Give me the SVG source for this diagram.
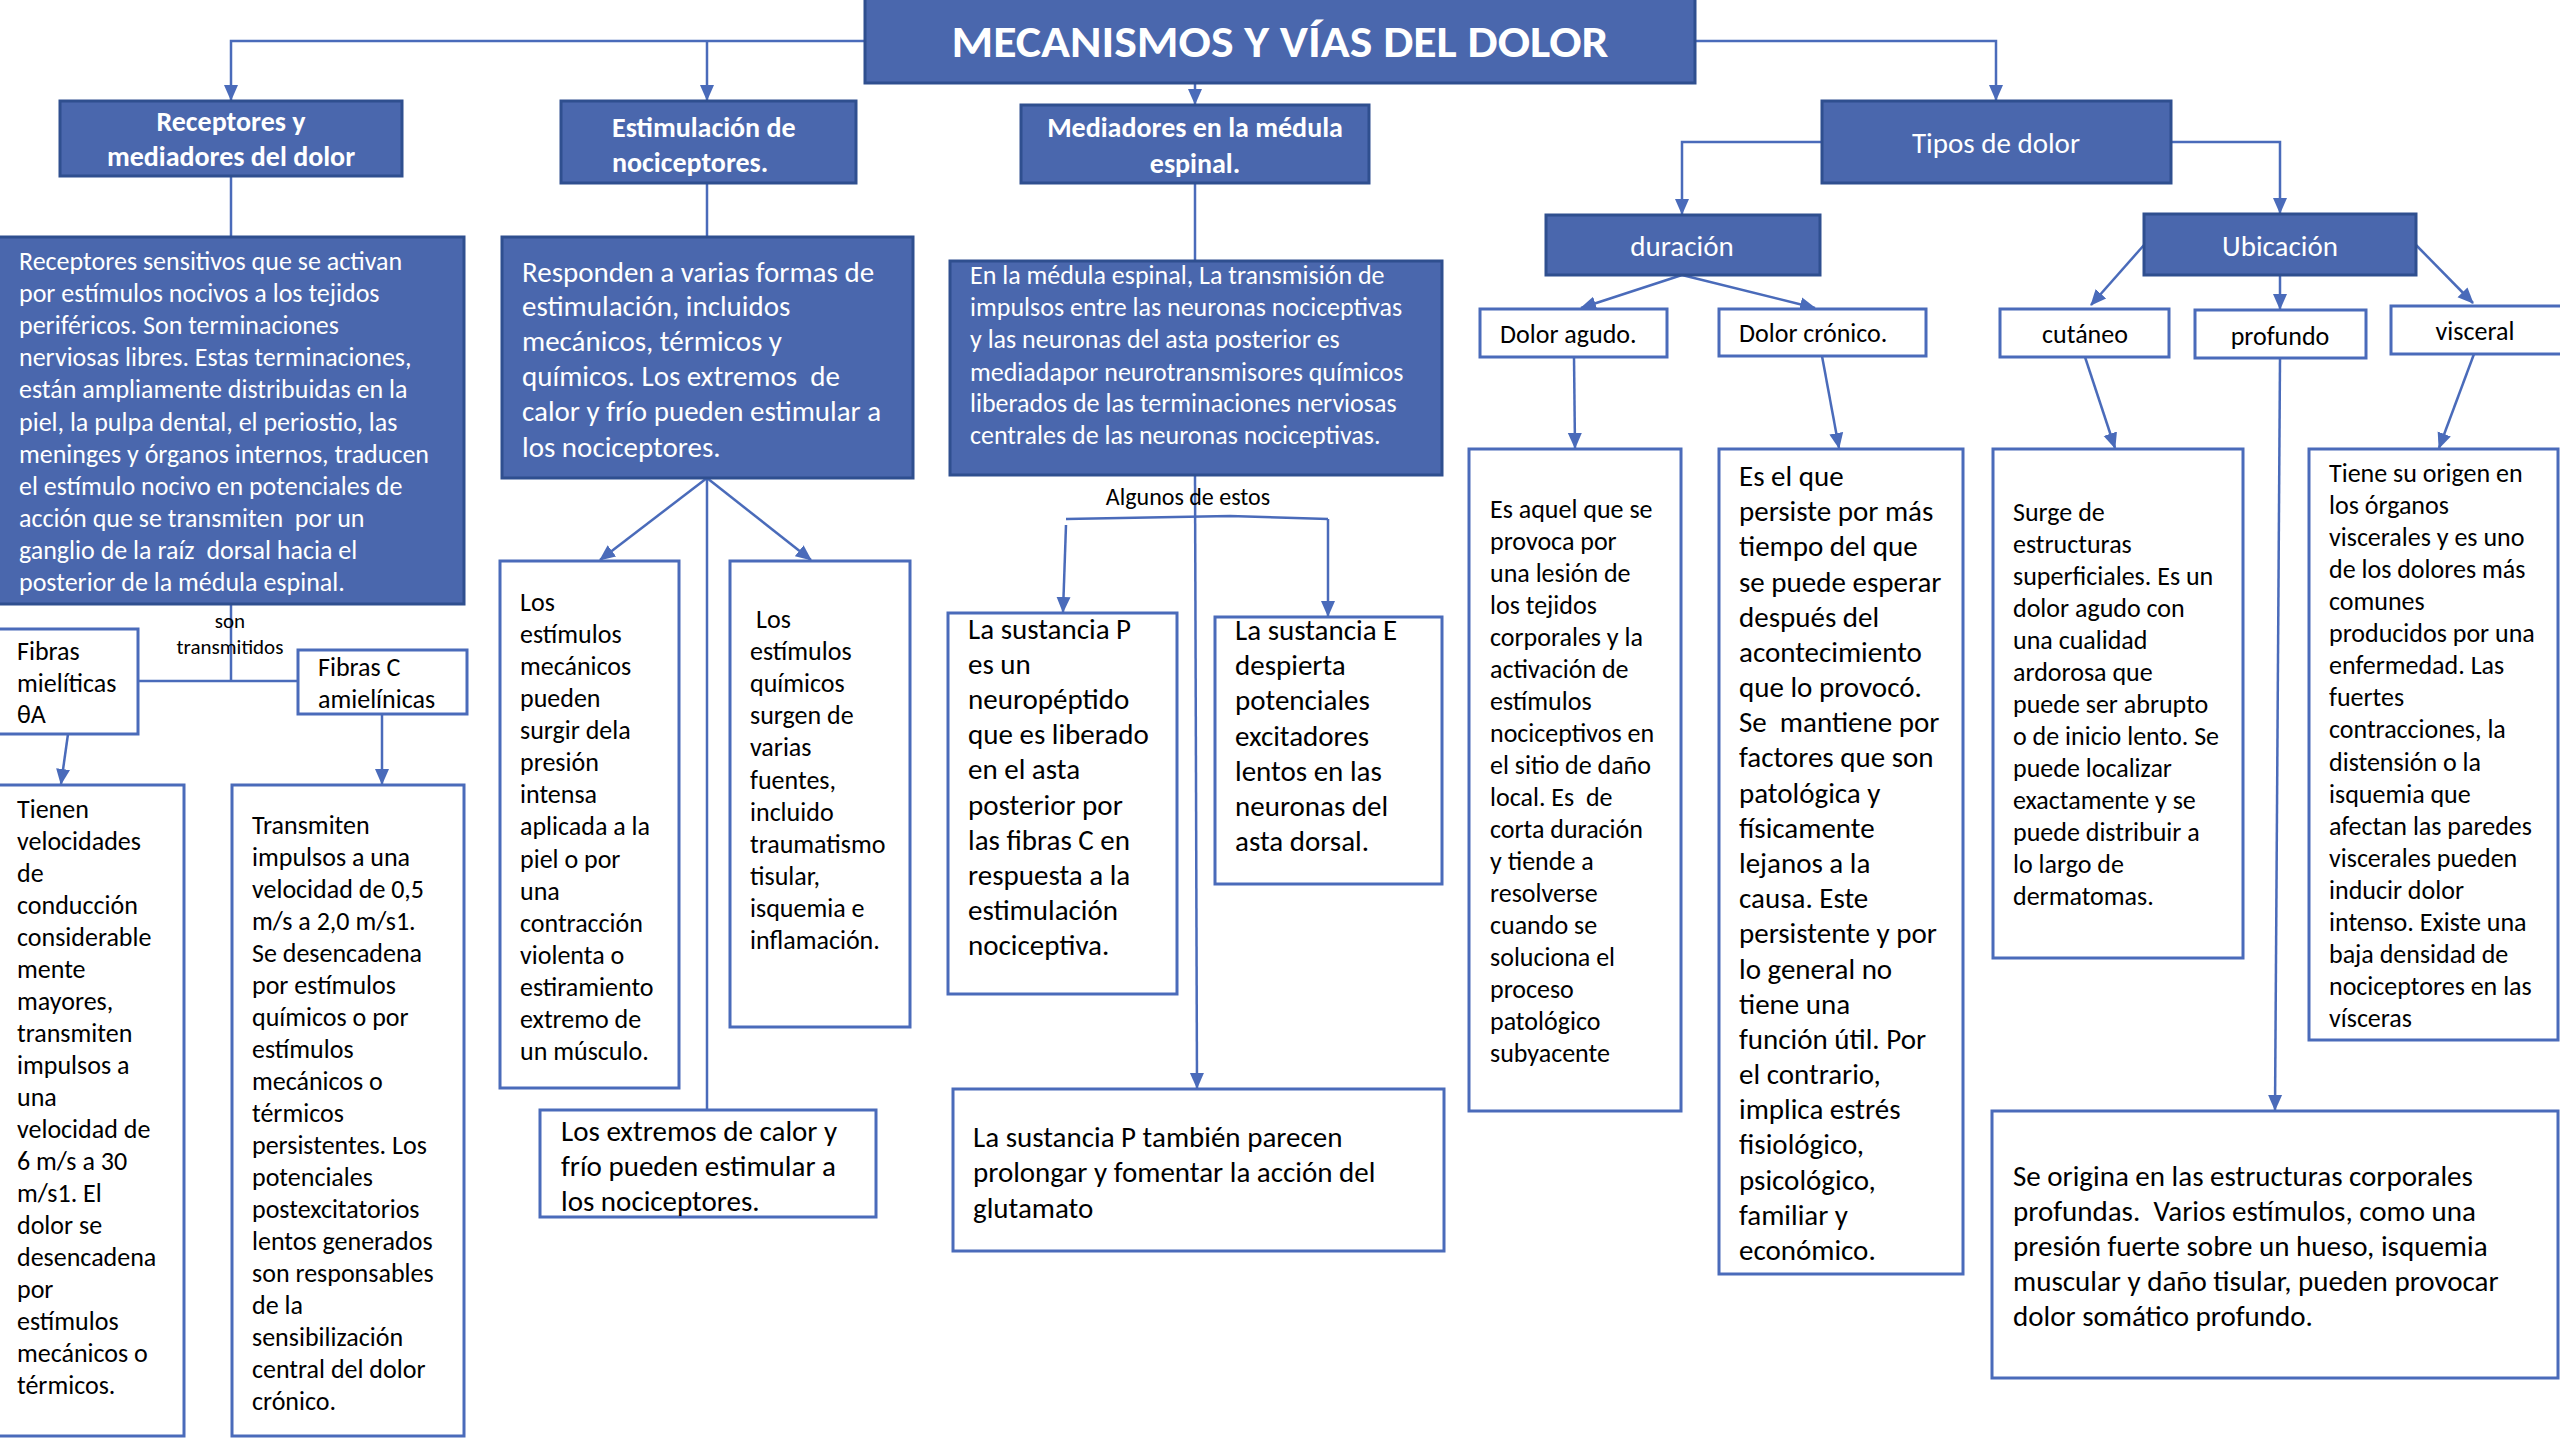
<svg xmlns="http://www.w3.org/2000/svg" width="2560" height="1440" viewBox="0 0 2560 1440">
<style>
text{font-family:Carlito,Lato,"Liberation Sans",sans-serif}
.fb{fill:#4A67AD;stroke:#2F4F8F;stroke-width:3}
.wb{fill:#FFFFFF;stroke:#4A6BBA;stroke-width:3}
.c{fill:none;stroke:#4A6BBA;stroke-width:2.5}
.a{marker-end:url(#ah)}
.w{fill:#FFFFFF}
.k{fill:#000000}
.h{font-weight:bold;font-size:28px}
.t26{font-size:26px}
.t29{font-size:29px}
.t20{font-size:21px}
.mid{text-anchor:middle}
</style>
<defs>
<marker id="ah" markerUnits="userSpaceOnUse" markerWidth="16" markerHeight="16" viewBox="0 0 16 14" refX="15" refY="7" orient="auto">
<path d="M0,0 L16,7 L0,14 z" fill="#4A6BBA"/>
</marker>
</defs>
<rect width="2560" height="1440" fill="#FFFFFF"/>

<g id="connectors">
<path class="c a" d="M865,41 H231 V100"/>
<path class="c a" d="M707,41 V100"/>
<path class="c a" d="M1195,83 V104"/>
<path class="c a" d="M1695,41 H1996 V100"/>
<path class="c" d="M231,176 V237"/>
<path class="c" d="M707,183 V237"/>
<path class="c" d="M1195,183 V261"/>
<path class="c" d="M231,604 V681 M138,681 H298"/>
<path class="c a" d="M68,734 L61,784"/>
<path class="c a" d="M382,714 V784"/>
<path class="c a" d="M707,478 L600,560"/>
<path class="c a" d="M707,478 L811,560"/>
<path class="c" d="M707,478 V1110"/>
<path class="c a" d="M1195,475 L1197,1088"/>
<path class="c" d="M1066,519 L1230,516 L1328,519"/>
<path class="c a" d="M1066,525 L1063,612"/>
<path class="c a" d="M1328,519 V616"/>
<path class="c a" d="M1822,142 H1682 V214"/>
<path class="c a" d="M2171,142 H2280 V213"/>
<path class="c a" d="M1682,275 L1581,308"/>
<path class="c a" d="M1682,275 L1815,308"/>
<path class="c a" d="M2144,245 L2091,305"/>
<path class="c a" d="M2280,275 V309"/>
<path class="c a" d="M2416,245 L2473,303"/>
<path class="c a" d="M1574,357 L1575,448"/>
<path class="c a" d="M1822,356 L1839,448"/>
<path class="c a" d="M2085,357 L2115,448"/>
<path class="c a" d="M2280,358 L2275,1110"/>
<path class="c a" d="M2474,354 L2439,448"/>
</g>

<g id="title">
<rect class="fb" x="865" y="-2" width="830" height="85"/>
<text class="w mid" x="1280" y="57" font-size="45" font-weight="bold" textLength="657" lengthAdjust="spacingAndGlyphs">MECANISMOS Y VÍAS DEL DOLOR</text>
</g>

<g id="receptores">
<rect class="fb" x="60" y="101" width="342" height="75"/>
<text class="w h mid"><tspan x="231" y="131">Receptores y</tspan><tspan x="231" y="166">mediadores del dolor</tspan></text>
</g>

<g id="receptores-desc">
<rect class="fb" x="-2" y="237" width="466" height="367"/>
<text class="w t26">
<tspan x="19" y="270">Receptores sensitivos que se activan</tspan>
<tspan x="19" y="302">por estímulos nocivos a los tejidos</tspan>
<tspan x="19" y="334">periféricos. Son terminaciones</tspan>
<tspan x="19" y="366">nerviosas libres. Estas terminaciones,</tspan>
<tspan x="19" y="398">están ampliamente distribuidas en la</tspan>
<tspan x="19" y="431">piel, la pulpa dental, el periostio, las</tspan>
<tspan x="19" y="463">meninges y órganos internos, traducen</tspan>
<tspan x="19" y="495">el estímulo nocivo en potenciales de</tspan>
<tspan x="19" y="527">acción que se transmiten &#160;por un</tspan>
<tspan x="19" y="559">ganglio de la raíz &#160;dorsal hacia el</tspan>
<tspan x="19" y="591">posterior de la médula espinal.</tspan>
</text>
</g>

<g id="son-transmitidos">
<text class="k t20 mid"><tspan x="230" y="628">son</tspan><tspan x="230" y="654">transmitidos</tspan></text>
</g>

<g id="fibras-a">
<rect class="wb" x="-2" y="629" width="140" height="105"/>
<text class="k t26"><tspan x="17" y="660">Fibras</tspan><tspan x="17" y="692">mielíticas</tspan><tspan x="17" y="723">θA</tspan></text>
</g>

<g id="fibras-c">
<rect class="wb" x="298" y="650" width="169" height="64"/>
<text class="k t26"><tspan x="318" y="676">Fibras C</tspan><tspan x="318" y="708">amielínicas</tspan></text>
</g>

<g id="fibras-a-desc">
<rect class="wb" x="-2" y="785" width="186" height="651"/>
<text class="k t26">
<tspan x="17" y="818">Tienen</tspan>
<tspan x="17" y="850">velocidades</tspan>
<tspan x="17" y="882">de</tspan>
<tspan x="17" y="914">conducción</tspan>
<tspan x="17" y="946">considerable</tspan>
<tspan x="17" y="978">mente</tspan>
<tspan x="17" y="1010">mayores,</tspan>
<tspan x="17" y="1042">transmiten</tspan>
<tspan x="17" y="1074">impulsos a</tspan>
<tspan x="17" y="1106">una</tspan>
<tspan x="17" y="1138">velocidad de</tspan>
<tspan x="17" y="1170">6 m/s a 30</tspan>
<tspan x="17" y="1202">m/s1. El</tspan>
<tspan x="17" y="1234">dolor se</tspan>
<tspan x="17" y="1266">desencadena</tspan>
<tspan x="17" y="1298">por</tspan>
<tspan x="17" y="1330">estímulos</tspan>
<tspan x="17" y="1362">mecánicos o</tspan>
<tspan x="17" y="1394">térmicos.</tspan>
</text>
</g>

<g id="fibras-c-desc">
<rect class="wb" x="232" y="785" width="232" height="651"/>
<text class="k t26">
<tspan x="252" y="834">Transmiten</tspan>
<tspan x="252" y="866">impulsos a una</tspan>
<tspan x="252" y="898">velocidad de 0,5</tspan>
<tspan x="252" y="930">m/s a 2,0 m/s1.</tspan>
<tspan x="252" y="962">Se desencadena</tspan>
<tspan x="252" y="994">por estímulos</tspan>
<tspan x="252" y="1026">químicos o por</tspan>
<tspan x="252" y="1058">estímulos</tspan>
<tspan x="252" y="1090">mecánicos o</tspan>
<tspan x="252" y="1122">térmicos</tspan>
<tspan x="252" y="1154">persistentes. Los</tspan>
<tspan x="252" y="1186">potenciales</tspan>
<tspan x="252" y="1218">postexcitatorios</tspan>
<tspan x="252" y="1250">lentos generados</tspan>
<tspan x="252" y="1282">son responsables</tspan>
<tspan x="252" y="1314">de la</tspan>
<tspan x="252" y="1346">sensibilización</tspan>
<tspan x="252" y="1378">central del dolor</tspan>
<tspan x="252" y="1410">crónico.</tspan>
</text>
</g>

<g id="estimulacion">
<rect class="fb" x="561" y="101" width="295" height="82"/>
<text class="w h"><tspan x="612" y="137">Estimulación de</tspan><tspan x="612" y="172">nociceptores.</tspan></text>
</g>

<g id="estimulacion-desc">
<rect class="fb" x="502" y="237" width="411" height="241"/>
<text class="w t29">
<tspan x="522" y="282">Responden a varias formas de</tspan>
<tspan x="522" y="316">estimulación, incluidos</tspan>
<tspan x="522" y="351">mecánicos, térmicos y</tspan>
<tspan x="522" y="386">químicos. Los extremos &#160;de</tspan>
<tspan x="522" y="421">calor y frío pueden estimular a</tspan>
<tspan x="522" y="457">los nociceptores.</tspan>
</text>
</g>

<g id="mecanicos">
<rect class="wb" x="500" y="561" width="179" height="527"/>
<text class="k t26">
<tspan x="520" y="611">Los</tspan>
<tspan x="520" y="643">estímulos</tspan>
<tspan x="520" y="675">mecánicos</tspan>
<tspan x="520" y="707">pueden</tspan>
<tspan x="520" y="739">surgir dela</tspan>
<tspan x="520" y="771">presión</tspan>
<tspan x="520" y="803">intensa</tspan>
<tspan x="520" y="835">aplicada a la</tspan>
<tspan x="520" y="868">piel o por</tspan>
<tspan x="520" y="900">una</tspan>
<tspan x="520" y="932">contracción</tspan>
<tspan x="520" y="964">violenta o</tspan>
<tspan x="520" y="996">estiramiento</tspan>
<tspan x="520" y="1028">extremo de</tspan>
<tspan x="520" y="1060">un músculo.</tspan>
</text>
</g>

<g id="quimicos">
<rect class="wb" x="730" y="561" width="180" height="466"/>
<text class="k t26">
<tspan x="756" y="628">Los</tspan>
<tspan x="750" y="660">estímulos</tspan>
<tspan x="750" y="692">químicos</tspan>
<tspan x="750" y="724">surgen de</tspan>
<tspan x="750" y="756">varias</tspan>
<tspan x="750" y="789">fuentes,</tspan>
<tspan x="750" y="821">incluido</tspan>
<tspan x="750" y="853">traumatismo</tspan>
<tspan x="750" y="885">tisular,</tspan>
<tspan x="750" y="917">isquemia e</tspan>
<tspan x="750" y="949">inflamación.</tspan>
</text>
</g>

<g id="extremos">
<rect class="wb" x="540" y="1110" width="336" height="107"/>
<text class="k t29">
<tspan x="561" y="1141">Los extremos de calor y</tspan>
<tspan x="561" y="1176">frío pueden estimular a</tspan>
<tspan x="561" y="1211">los nociceptores.</tspan>
</text>
</g>

<g id="mediadores">
<rect class="fb" x="1021" y="105" width="348" height="78"/>
<text class="w h mid"><tspan x="1195" y="137">Mediadores en la médula</tspan><tspan x="1195" y="173">espinal.</tspan></text>
</g>

<g id="mediadores-desc">
<rect class="fb" x="950" y="261" width="492" height="214"/>
<text class="w t26">
<tspan x="970" y="284">En la médula espinal, La transmisión de</tspan>
<tspan x="970" y="316">impulsos entre las neuronas nociceptivas</tspan>
<tspan x="970" y="348">y las neuronas del asta posterior es</tspan>
<tspan x="970" y="381">mediadapor neurotransmisores químicos</tspan>
<tspan x="970" y="412">liberados de las terminaciones nerviosas</tspan>
<tspan x="970" y="444">centrales de las neuronas nociceptivas.</tspan>
</text>
</g>

<g id="algunos">
<text class="k mid" x="1188" y="505" font-size="24">Algunos de estos</text>
</g>

<g id="sustancia-p">
<rect class="wb" x="948" y="613" width="229" height="381"/>
<text class="k t29">
<tspan x="968" y="639">La sustancia P</tspan>
<tspan x="968" y="674">es un</tspan>
<tspan x="968" y="709">neuropéptido</tspan>
<tspan x="968" y="744">que es liberado</tspan>
<tspan x="968" y="779">en el asta</tspan>
<tspan x="968" y="815">posterior por</tspan>
<tspan x="968" y="850">las fibras C en</tspan>
<tspan x="968" y="885">respuesta a la</tspan>
<tspan x="968" y="920">estimulación</tspan>
<tspan x="968" y="955">nociceptiva.</tspan>
</text>
</g>

<g id="sustancia-e">
<rect class="wb" x="1215" y="617" width="227" height="267"/>
<text class="k t29">
<tspan x="1235" y="640">La sustancia E</tspan>
<tspan x="1235" y="675">despierta</tspan>
<tspan x="1235" y="710">potenciales</tspan>
<tspan x="1235" y="746">excitadores</tspan>
<tspan x="1235" y="781">lentos en las</tspan>
<tspan x="1235" y="816">neuronas del</tspan>
<tspan x="1235" y="851">asta dorsal.</tspan>
</text>
</g>

<g id="glutamato">
<rect class="wb" x="953" y="1089" width="491" height="162"/>
<text class="k t29">
<tspan x="973" y="1147">La sustancia P también parecen</tspan>
<tspan x="973" y="1182">prolongar y fomentar la acción del</tspan>
<tspan x="973" y="1218">glutamato</tspan>
</text>
</g>

<g id="tipos">
<rect class="fb" x="1822" y="101" width="349" height="82"/>
<text class="w t29 mid" x="1996" y="153">Tipos de dolor</text>
</g>

<g id="duracion">
<rect class="fb" x="1546" y="215" width="274" height="60"/>
<text class="w t29 mid" x="1682" y="256">duración</text>
</g>

<g id="ubicacion">
<rect class="fb" x="2144" y="214" width="272" height="61"/>
<text class="w t29 mid" x="2280" y="256">Ubicación</text>
</g>

<g id="agudo">
<rect class="wb" x="1480" y="309" width="187" height="48"/>
<text class="k t26" x="1500" y="343">Dolor agudo.</text>
</g>

<g id="cronico">
<rect class="wb" x="1719" y="309" width="207" height="47"/>
<text class="k t26" x="1739" y="342">Dolor crónico.</text>
</g>

<g id="cutaneo">
<rect class="wb" x="2000" y="309" width="169" height="48"/>
<text class="k t26 mid" x="2085" y="343">cutáneo</text>
</g>

<g id="profundo">
<rect class="wb" x="2195" y="310" width="171" height="48"/>
<text class="k t26 mid" x="2280" y="345">profundo</text>
</g>

<g id="visceral">
<rect class="wb" x="2391" y="306" width="171" height="48"/>
<text class="k t26 mid" x="2475" y="340">visceral</text>
</g>

<g id="agudo-desc">
<rect class="wb" x="1469" y="449" width="212" height="662"/>
<text class="k t26">
<tspan x="1490" y="518">Es aquel que se</tspan>
<tspan x="1490" y="550">provoca por</tspan>
<tspan x="1490" y="582">una lesión de</tspan>
<tspan x="1490" y="614">los tejidos</tspan>
<tspan x="1490" y="646">corporales y la</tspan>
<tspan x="1490" y="678">activación de</tspan>
<tspan x="1490" y="710">estímulos</tspan>
<tspan x="1490" y="742">nociceptivos en</tspan>
<tspan x="1490" y="774">el sitio de daño</tspan>
<tspan x="1490" y="806">local. Es &#160;de</tspan>
<tspan x="1490" y="838">corta duración</tspan>
<tspan x="1490" y="870">y tiende a</tspan>
<tspan x="1490" y="902">resolverse</tspan>
<tspan x="1490" y="934">cuando se</tspan>
<tspan x="1490" y="966">soluciona el</tspan>
<tspan x="1490" y="998">proceso</tspan>
<tspan x="1490" y="1030">patológico</tspan>
<tspan x="1490" y="1062">subyacente</tspan>
</text>
</g>

<g id="cronico-desc">
<rect class="wb" x="1719" y="449" width="244" height="825"/>
<text class="k t29">
<tspan x="1739" y="486">Es el que</tspan>
<tspan x="1739" y="521">persiste por más</tspan>
<tspan x="1739" y="556">tiempo del que</tspan>
<tspan x="1739" y="592">se puede esperar</tspan>
<tspan x="1739" y="627">después del</tspan>
<tspan x="1739" y="662">acontecimiento</tspan>
<tspan x="1739" y="697">que lo provocó.</tspan>
<tspan x="1739" y="732">Se &#160;mantiene por</tspan>
<tspan x="1739" y="767">factores que son</tspan>
<tspan x="1739" y="803">patológica y</tspan>
<tspan x="1739" y="838">físicamente</tspan>
<tspan x="1739" y="873">lejanos a la</tspan>
<tspan x="1739" y="908">causa. Este</tspan>
<tspan x="1739" y="943">persistente y por</tspan>
<tspan x="1739" y="979">lo general no</tspan>
<tspan x="1739" y="1014">tiene una</tspan>
<tspan x="1739" y="1049">función útil. Por</tspan>
<tspan x="1739" y="1084">el contrario,</tspan>
<tspan x="1739" y="1119">implica estrés</tspan>
<tspan x="1739" y="1154">fisiológico,</tspan>
<tspan x="1739" y="1190">psicológico,</tspan>
<tspan x="1739" y="1225">familiar y</tspan>
<tspan x="1739" y="1260">económico.</tspan>
</text>
</g>

<g id="cutaneo-desc">
<rect class="wb" x="1993" y="449" width="250" height="509"/>
<text class="k t26">
<tspan x="2013" y="521">Surge de</tspan>
<tspan x="2013" y="553">estructuras</tspan>
<tspan x="2013" y="585">superficiales. Es un</tspan>
<tspan x="2013" y="617">dolor agudo con</tspan>
<tspan x="2013" y="649">una cualidad</tspan>
<tspan x="2013" y="681">ardorosa que</tspan>
<tspan x="2013" y="713">puede ser abrupto</tspan>
<tspan x="2013" y="745">o de inicio lento. Se</tspan>
<tspan x="2013" y="777">puede localizar</tspan>
<tspan x="2013" y="809">exactamente y se</tspan>
<tspan x="2013" y="841">puede distribuir a</tspan>
<tspan x="2013" y="873">lo largo de</tspan>
<tspan x="2013" y="905">dermatomas.</tspan>
</text>
</g>

<g id="visceral-desc">
<rect class="wb" x="2309" y="449" width="249" height="591"/>
<text class="k t26">
<tspan x="2329" y="482">Tiene su origen en</tspan>
<tspan x="2329" y="514">los órganos</tspan>
<tspan x="2329" y="546">viscerales y es uno</tspan>
<tspan x="2329" y="578">de los dolores más</tspan>
<tspan x="2329" y="610">comunes</tspan>
<tspan x="2329" y="642">producidos por una</tspan>
<tspan x="2329" y="674">enfermedad. Las</tspan>
<tspan x="2329" y="706">fuertes</tspan>
<tspan x="2329" y="738">contracciones, la</tspan>
<tspan x="2329" y="771">distensión o la</tspan>
<tspan x="2329" y="803">isquemia que</tspan>
<tspan x="2329" y="835">afectan las paredes</tspan>
<tspan x="2329" y="867">viscerales pueden</tspan>
<tspan x="2329" y="899">inducir dolor</tspan>
<tspan x="2329" y="931">intenso. Existe una</tspan>
<tspan x="2329" y="963">baja densidad de</tspan>
<tspan x="2329" y="995">nociceptores en las</tspan>
<tspan x="2329" y="1027">vísceras</tspan>
</text>
</g>

<g id="profundo-desc">
<rect class="wb" x="1992" y="1111" width="566" height="267"/>
<text class="k t29">
<tspan x="2013" y="1186">Se origina en las estructuras corporales</tspan>
<tspan x="2013" y="1221">profundas. &#160;Varios estímulos, como una</tspan>
<tspan x="2013" y="1256">presión fuerte sobre un hueso, isquemia</tspan>
<tspan x="2013" y="1291">muscular y daño tisular, pueden provocar</tspan>
<tspan x="2013" y="1326">dolor somático profundo.</tspan>
</text>
</g>
</svg>
